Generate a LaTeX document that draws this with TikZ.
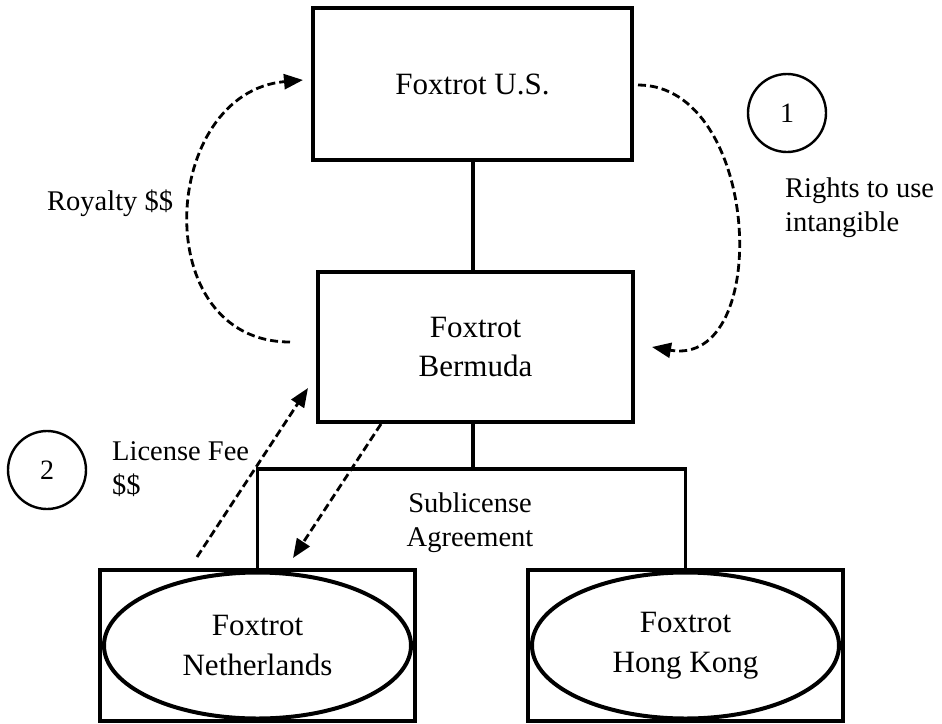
\documentclass[tikz,border=0pt]{standalone}
\usepackage{fontspec}
\setmainfont{Liberation Serif}
\usetikzlibrary{arrows.meta, positioning, shapes.geometric}
\tikzset{
  orgbox/.style={draw, rectangle, line width=4.2pt, align=center, inner sep=0pt,
                 font=\fontsize{31}{39}\selectfont},
  subell/.style={draw, ellipse, line width=4pt, align=center, inner sep=0pt,
                 font=\fontsize{31}{40}\selectfont},
  numcirc/.style={draw, circle, line width=2.4pt, minimum size=78pt, inner sep=0pt,
                  font=\fontsize{28}{34}\selectfont},
  lbl/.style={align=left, inner sep=0pt, font=\fontsize{28.5}{34}\selectfont},
  lnk/.style={line width=3.2pt},
  flowarr/.style={-{Triangle[length=19pt,width=15pt]}, line width=2.8pt,
                  dash pattern=on 8pt off 4pt},
}

\begin{document}
\begin{tikzpicture}[x=1pt, y=-1pt]
  \useasboundingbox (0,0) rectangle (942,723);

  %% Entities
  \node[orgbox, minimum width=319pt, minimum height=152pt] (us) at (472.5,84) {Foxtrot U.S.};
  \node[orgbox, minimum width=315pt, minimum height=150pt] (bda) at (475.5,347) {Foxtrot\\Bermuda};
  \node[orgbox, minimum width=315pt, minimum height=151pt] (nlbox) at (257.5,645.5) {};
  \node[subell, minimum width=307pt, minimum height=146pt] (nl) at (nlbox.center) {Foxtrot\\Netherlands};
  \node[orgbox, minimum width=315pt, minimum height=151pt] (hkbox) at (685.5,645.5) {};
  \node[subell, minimum width=307pt, minimum height=146pt] (hk) at (hkbox.center) {Foxtrot\\Hong Kong};

  %% Ownership lines
  \coordinate (bar) at (473,469);
  \draw[lnk] (us.south -| bar) -- (bda.north -| bar);
  \draw[lnk] (bda.south -| bar) -- (bar);
  \draw[lnk] (nlbox.north) |- (bar) -| (hkbox.north);

  %% Flows
  \coordinate (roy-s) at (290,342);
  \coordinate (roy-e) at (303,80);
  \draw[flowarr] (roy-s) to[out=180, in=185, looseness=1.4] (roy-e);
  \coordinate (rt-s) at (638,85);
  \coordinate (rt-e) at (652,347);
  \draw[flowarr] (rt-s) to[out=0, in=-10, looseness=1.2] (rt-e);
  \coordinate (fee-s) at (197,557);
  \coordinate (fee-e) at (308,388);
  \draw[flowarr] (fee-s) -- (fee-e);
  \coordinate (sub-s) at (381,424);
  \coordinate (sub-e) at (293,558);
  \draw[flowarr] (sub-s) -- (sub-e);

  %% Steps and labels
  \node[numcirc] (c1) at (787,113) {1};
  \node[numcirc] (c2) at (47,470) {2};
  \node[lbl, anchor=base west] (roy) at (47,210) {Royalty \$\$};
  \node[lbl, anchor=north west] (rights) at (785,178) {Rights to use\\intangible};
  \node[lbl, anchor=north west] (fee) at (112,441) {License Fee\\\$\$};
  \node[lbl, anchor=north, align=center] (subl) at (470,493) {Sublicense\\Agreement};

\end{tikzpicture}
\end{document}
